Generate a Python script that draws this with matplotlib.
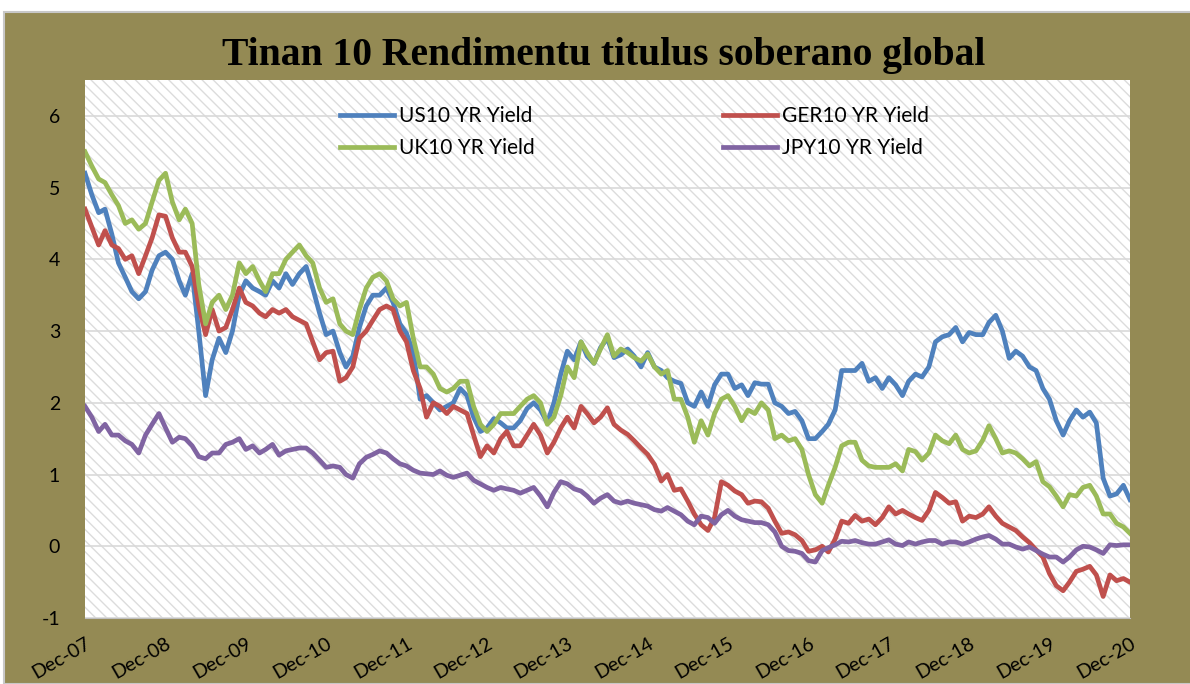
import matplotlib
matplotlib.use('Agg')
import matplotlib.pyplot as plt
import pandas as pd
from matplotlib.patches import Rectangle

plt.rcParams["axes.unicode_minus"] = False
plt.rcParams["hatch.linewidth"] = 1.0

# monthly readings, Dec-07 .. Dec-20
dates = pd.date_range('2007-12-01', periods=157, freq='MS')

us10 = [5.2, 4.9, 4.65, 4.7, 4.35, 3.95, 3.75, 3.55, 3.45, 3.55, 3.85, 4.05, 4.1, 4.0, 3.7, 3.5, 3.8, 3.0, 2.1, 2.6,
        2.9, 2.7, 3.0, 3.5, 3.7, 3.6, 3.55, 3.5, 3.7, 3.6, 3.8, 3.65, 3.8, 3.9, 3.6, 3.25, 2.95,
        3.0, 2.7, 2.5, 2.65, 3.05, 3.35, 3.5, 3.5, 3.6, 3.4, 3.1, 2.97, 2.7, 2.05, 2.1, 2.0, 1.9, 1.95,
        2.0, 2.2, 2.1, 1.8, 1.6, 1.65, 1.78, 1.72, 1.65, 1.65, 1.75, 1.92, 2.0, 1.9, 1.72, 2.0, 2.4, 2.72,
        2.6, 2.85, 2.65, 2.55, 2.77, 2.9, 2.63, 2.67, 2.75, 2.65, 2.5, 2.7, 2.5, 2.45, 2.35, 2.3, 2.27, 2.0,
        1.95, 2.15, 1.95, 2.25, 2.4, 2.4, 2.2, 2.25, 2.1, 2.28, 2.26, 2.26, 2.0, 1.95, 1.85, 1.88, 1.75, 1.5,
        1.5, 1.6, 1.7, 1.9, 2.45, 2.45, 2.45, 2.55, 2.3, 2.35, 2.2, 2.35, 2.25, 2.1, 2.3, 2.4, 2.36, 2.5,
        2.85, 2.92, 2.95, 3.05, 2.85, 2.98, 2.95, 2.95, 3.12, 3.22, 3.0, 2.62, 2.72, 2.65, 2.5, 2.45, 2.2, 2.05,
        1.75, 1.55, 1.75, 1.9, 1.8, 1.87, 1.72, 0.95, 0.7, 0.73, 0.85, 0.65]

ger10 = [4.7, 4.45, 4.2, 4.4, 4.2, 4.15, 4.0, 4.05, 3.8, 4.05, 4.3, 4.62, 4.6, 4.3, 4.1, 4.1, 3.9, 3.35, 2.95, 3.3,
         3.0, 3.05, 3.3, 3.6, 3.4, 3.35, 3.25, 3.2, 3.3, 3.25, 3.3, 3.2, 3.15, 3.1, 2.85, 2.6, 2.7,
         2.72, 2.3, 2.35, 2.5, 2.9, 3.0, 3.15, 3.3, 3.35, 3.3, 3.0, 2.85, 2.45, 2.2, 1.8, 2.0, 1.95, 1.85,
         1.95, 1.9, 1.85, 1.55, 1.25, 1.4, 1.3, 1.5, 1.6, 1.4, 1.4, 1.55, 1.7, 1.55, 1.3, 1.45, 1.65, 1.8,
         1.65, 1.95, 1.85, 1.72, 1.8, 1.93, 1.7, 1.62, 1.56, 1.47, 1.37, 1.28, 1.14, 0.91, 1.0, 0.78, 0.8, 0.63,
         0.45, 0.3, 0.22, 0.4, 0.9, 0.85, 0.77, 0.72, 0.6, 0.63, 0.62, 0.53, 0.35, 0.18, 0.2, 0.16, 0.08, -0.07,
         -0.05, 0.0, -0.08, 0.1, 0.35, 0.32, 0.43, 0.35, 0.38, 0.3, 0.4, 0.55, 0.45, 0.5, 0.45, 0.4, 0.36, 0.5,
         0.75, 0.68, 0.6, 0.62, 0.35, 0.42, 0.4, 0.45, 0.55, 0.42, 0.32, 0.27, 0.22, 0.13, 0.05, -0.05, -0.15, -0.38,
         -0.55, -0.62, -0.5, -0.35, -0.32, -0.28, -0.4, -0.7, -0.4, -0.48, -0.45, -0.5]

uk10 = [5.5, 5.3, 5.12, 5.07, 4.9, 4.75, 4.5, 4.55, 4.42, 4.5, 4.8, 5.1, 5.2, 4.8, 4.55, 4.7, 4.5, 3.65, 3.1, 3.4,
        3.5, 3.3, 3.5, 3.95, 3.8, 3.9, 3.7, 3.55, 3.8, 3.8, 4.0, 4.1, 4.2, 4.05, 3.95, 3.6, 3.4,
        3.45, 3.1, 3.0, 2.95, 3.3, 3.6, 3.75, 3.8, 3.7, 3.45, 3.35, 3.4, 2.9, 2.5, 2.5, 2.4, 2.2, 2.15,
        2.2, 2.3, 2.3, 1.95, 1.7, 1.6, 1.7, 1.85, 1.85, 1.85, 1.95, 2.05, 2.1, 2.0, 1.7, 1.8, 2.1, 2.5,
        2.35, 2.85, 2.7, 2.55, 2.75, 2.95, 2.65, 2.75, 2.7, 2.63, 2.58, 2.68, 2.5, 2.4, 2.45, 2.05, 2.05, 1.8,
        1.45, 1.75, 1.55, 1.85, 2.05, 2.1, 1.95, 1.75, 1.9, 1.85, 2.0, 1.9, 1.5, 1.55, 1.47, 1.5, 1.35, 1.0,
        0.72, 0.6, 0.85, 1.1, 1.4, 1.45, 1.45, 1.2, 1.12, 1.1, 1.1, 1.1, 1.15, 1.05, 1.35, 1.32, 1.2, 1.3,
        1.55, 1.47, 1.43, 1.55, 1.35, 1.3, 1.33, 1.48, 1.68, 1.5, 1.3, 1.33, 1.3, 1.22, 1.12, 1.18, 0.9, 0.83,
        0.7, 0.55, 0.72, 0.7, 0.82, 0.85, 0.7, 0.45, 0.45, 0.32, 0.27, 0.18]

jpy10 = [1.95, 1.8, 1.6, 1.7, 1.55, 1.55, 1.47, 1.42, 1.3, 1.55, 1.7, 1.85, 1.65, 1.45, 1.52, 1.5, 1.4, 1.25, 1.22, 1.3,
         1.3, 1.42, 1.45, 1.5, 1.35, 1.4, 1.3, 1.35, 1.42, 1.27, 1.33, 1.35, 1.37, 1.37, 1.3, 1.2, 1.1,
         1.12, 1.1, 1.0, 0.95, 1.15, 1.24, 1.28, 1.33, 1.3, 1.22, 1.15, 1.12, 1.06, 1.02, 1.01, 1.0, 1.05, 0.99,
         0.96, 0.99, 1.02, 0.92, 0.87, 0.82, 0.78, 0.82, 0.8, 0.78, 0.74, 0.78, 0.82, 0.7, 0.55, 0.75, 0.9, 0.87,
         0.8, 0.77, 0.7, 0.6, 0.67, 0.72, 0.63, 0.6, 0.63, 0.6, 0.58, 0.56, 0.51, 0.49, 0.54, 0.49, 0.44, 0.35,
         0.3, 0.42, 0.4, 0.32, 0.44, 0.5, 0.42, 0.37, 0.35, 0.33, 0.33, 0.3, 0.2, 0.0, -0.06, -0.07, -0.1, -0.2,
         -0.22, -0.06, -0.02, 0.02, 0.07, 0.06, 0.08, 0.05, 0.03, 0.03, 0.06, 0.09, 0.03, 0.01, 0.06, 0.03, 0.06, 0.08,
         0.08, 0.03, 0.06, 0.06, 0.03, 0.06, 0.1, 0.13, 0.15, 0.1, 0.03, 0.03, -0.01, -0.04, -0.01, -0.06, -0.11, -0.15,
         -0.15, -0.22, -0.15, -0.05, 0.0, -0.01, -0.05, -0.1, 0.02, 0.01, 0.02, 0.02]

labels = ["US10 YR Yield", "GER10 YR Yield", "UK10 YR Yield", "JPY10 YR Yield"]
colors = ["#4F81BD", "#C0504D", "#9BBB59", "#8064A2"]
title = "Tinan 10 Rendimentu titulus soberano global"

W, H = 1190, 684
fig = plt.figure(figsize=(W / 100, H / 100), dpi=100)
fig.patch.set_facecolor("white")
# olive chart frame, kept behind the axes
fig.patches.append(Rectangle((4 / W, 0), 1, 1 - 12 / H, transform=fig.transFigure,
                             facecolor="#948A54", edgecolor="#C8C8C8", lw=1.5, zorder=-5))

ax = fig.add_axes([85 / W, 1 - 618 / H, 1045 / W, 538 / H])
ax.set_zorder(1)
ax.set_facecolor("white")
# light diagonal hatching of the plot area
ax.add_patch(Rectangle((0, 0), 1, 1, transform=ax.transAxes, facecolor="none",
                       edgecolor="#DCDCDC", hatch="\\\\\\", lw=0, zorder=0))

lines = []
for vals, lab, col in zip([us10, ger10, uk10, jpy10], labels, colors):
    ln, = ax.plot(dates, vals, color=col, lw=3.4, label=lab, zorder=3)
    lines.append(ln)

ax.set_xlim(dates[0], dates[-1])
ax.set_ylim(-1, 6.5)
ax.set_yticks(range(-1, 7))
ax.yaxis.grid(True, color="#D9D9D9", lw=1.2)
ax.set_axisbelow(True)

xt = dates[::12]
ax.set_xticks(xt)
ax.set_xticklabels([d.strftime("%b-%y") for d in xt], rotation=30, ha="right", va="top",
                   rotation_mode="anchor", fontsize=14, family="Lato")
for t in ax.get_yticklabels():
    t.set_fontsize(14)
    t.set_family("Lato")
ax.tick_params(axis="x", length=0, pad=12)
ax.tick_params(axis="y", length=0, pad=18)

for s in ["left", "right", "top"]:
    ax.spines[s].set_visible(False)
ax.spines["bottom"].set_color("#BFBFBF")

# legend in two columns, placed like the original
leg_kw = dict(loc="upper left", bbox_transform=fig.transFigure, frameon=False, borderpad=0,
              borderaxespad=0, handlelength=2.6, handletextpad=0.25, labelspacing=0.6,
              prop={"family": "Lato", "size": 15})
leg1 = ax.legend(handles=[lines[0], lines[2]], bbox_to_anchor=(340 / W, 1 - 106 / H), **leg_kw)
ax.add_artist(leg1)
ax.legend(handles=[lines[1], lines[3]], bbox_to_anchor=(723 / W, 1 - 106 / H), **leg_kw)

fig.text(604 / W, 1 - 55 / H, title, ha="center", va="center", fontsize=28.5, fontweight="bold",
         family="Liberation Serif")

fig.savefig("out.png", dpi=100, facecolor=fig.get_facecolor())
